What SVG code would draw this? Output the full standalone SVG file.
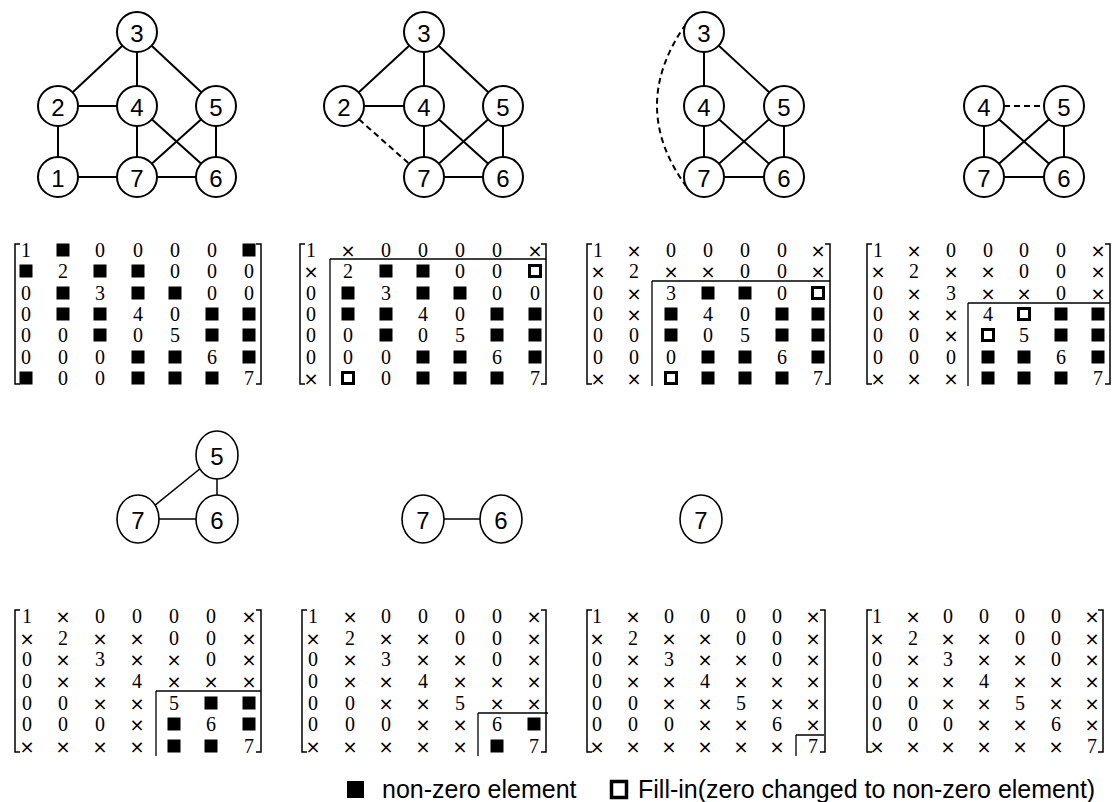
<svg xmlns="http://www.w3.org/2000/svg" width="1115" height="802" viewBox="0 0 1115 802">
<style>
.node circle,.node ellipse{fill:#fff;stroke:#000;stroke-width:2}
.node.sm ellipse{stroke-width:1.6}
.node text{font-family:"Liberation Sans",Arial,sans-serif;font-size:24px;text-anchor:middle;dominant-baseline:central}
.edges line,.edges path{stroke:#000;stroke-width:2;fill:none}
.edges .thin{stroke-width:1.5}
.edges .dash{stroke-dasharray:6 4}
.mt{font-family:"Liberation Serif","Times New Roman",serif;font-size:20px;text-anchor:middle;fill:#000}
.mt .x{font-family:"DejaVu Sans",sans-serif;font-size:18px}
.br{fill:none;stroke:#000;stroke-width:1.5}
.part{fill:none;stroke:#000;stroke-width:1.3}
.leg{font-family:"Liberation Sans",Arial,sans-serif;font-size:25px}
</style>
<defs>
<rect id="bk" x="-6.5" y="-6.5" width="13" height="13" fill="#000"/>
<rect id="fi" x="-5.5" y="-5.5" width="11" height="11" fill="#fff" stroke="#000" stroke-width="3"/>
</defs>
<rect width="1115" height="802" fill="#fff"/>

<g id="connectors" class="edges">
<line x1="137" y1="32" x2="58" y2="106"/><line x1="137" y1="32" x2="137" y2="106"/><line x1="137" y1="32" x2="216" y2="106"/>
<line x1="58" y1="106" x2="137" y2="106"/><line x1="58" y1="106" x2="58" y2="177"/><line x1="58" y1="177" x2="137" y2="177"/>
<line x1="137" y1="106" x2="137" y2="177"/><line x1="137" y1="106" x2="216" y2="177"/><line x1="216" y1="106" x2="137" y2="177"/>
<line x1="216" y1="106" x2="216" y2="177"/><line x1="137" y1="177" x2="216" y2="177"/>
<line x1="424" y1="32" x2="344" y2="106"/><line x1="424" y1="32" x2="424" y2="106"/><line x1="424" y1="32" x2="503" y2="106"/>
<line x1="344" y1="106" x2="424" y2="106"/><line class="dash" x1="344" y1="106" x2="424" y2="177"/>
<line x1="424" y1="106" x2="424" y2="177"/><line x1="424" y1="106" x2="503" y2="177"/><line x1="503" y1="106" x2="424" y2="177"/>
<line x1="503" y1="106" x2="503" y2="177"/><line x1="424" y1="177" x2="503" y2="177"/>
<line x1="704" y1="32" x2="704" y2="106"/><line x1="704" y1="32" x2="784" y2="106"/>
<path class="dash" d="M 686 24 Q 628 106 686 186"/>
<line x1="704" y1="106" x2="704" y2="177"/><line x1="704" y1="106" x2="784" y2="177"/><line x1="784" y1="106" x2="704" y2="177"/>
<line x1="784" y1="106" x2="784" y2="177"/><line x1="704" y1="177" x2="784" y2="177"/>
<line class="dash" x1="984" y1="106" x2="1064" y2="106"/>
<line x1="984" y1="106" x2="984" y2="177"/><line x1="984" y1="106" x2="1064" y2="177"/><line x1="1064" y1="106" x2="984" y2="177"/>
<line x1="1064" y1="106" x2="1064" y2="177"/><line x1="984" y1="177" x2="1064" y2="177"/>
<line class="thin" x1="217" y1="455" x2="138" y2="519"/><line class="thin" x1="217" y1="455" x2="217" y2="519"/><line class="thin" x1="138" y1="519" x2="217" y2="519"/>
<line class="thin" x1="423" y1="519" x2="501" y2="519"/>
</g>

<g id="g1-n3" class="node"><circle cx="137" cy="32" r="20"/><text x="137" y="33">3</text></g>
<g id="g1-n2" class="node"><circle cx="58" cy="106" r="20"/><text x="58" y="107">2</text></g>
<g id="g1-n4" class="node"><circle cx="137" cy="106" r="20"/><text x="137" y="107">4</text></g>
<g id="g1-n5" class="node"><circle cx="216" cy="106" r="20"/><text x="216" y="107">5</text></g>
<g id="g1-n1" class="node"><circle cx="58" cy="177" r="20"/><text x="58" y="178">1</text></g>
<g id="g1-n7" class="node"><circle cx="137" cy="177" r="20"/><text x="137" y="178">7</text></g>
<g id="g1-n6" class="node"><circle cx="216" cy="177" r="20"/><text x="216" y="178">6</text></g>
<g id="g2-n3" class="node"><circle cx="424" cy="32" r="20"/><text x="424" y="33">3</text></g>
<g id="g2-n2" class="node"><circle cx="344" cy="106" r="20"/><text x="344" y="107">2</text></g>
<g id="g2-n4" class="node"><circle cx="424" cy="106" r="20"/><text x="424" y="107">4</text></g>
<g id="g2-n5" class="node"><circle cx="503" cy="106" r="20"/><text x="503" y="107">5</text></g>
<g id="g2-n7" class="node"><circle cx="424" cy="177" r="20"/><text x="424" y="178">7</text></g>
<g id="g2-n6" class="node"><circle cx="503" cy="177" r="20"/><text x="503" y="178">6</text></g>
<g id="g3-n3" class="node"><circle cx="704" cy="32" r="20"/><text x="704" y="33">3</text></g>
<g id="g3-n4" class="node"><circle cx="704" cy="106" r="20"/><text x="704" y="107">4</text></g>
<g id="g3-n5" class="node"><circle cx="784" cy="106" r="20"/><text x="784" y="107">5</text></g>
<g id="g3-n7" class="node"><circle cx="704" cy="177" r="20"/><text x="704" y="178">7</text></g>
<g id="g3-n6" class="node"><circle cx="784" cy="177" r="20"/><text x="784" y="178">6</text></g>
<g id="g4-n4" class="node"><circle cx="984" cy="106" r="20"/><text x="984" y="107">4</text></g>
<g id="g4-n5" class="node"><circle cx="1064" cy="106" r="20"/><text x="1064" y="107">5</text></g>
<g id="g4-n7" class="node"><circle cx="984" cy="177" r="20"/><text x="984" y="178">7</text></g>
<g id="g4-n6" class="node"><circle cx="1064" cy="177" r="20"/><text x="1064" y="178">6</text></g>
<g id="g5-n5" class="node sm"><ellipse cx="217" cy="455" rx="21" ry="24"/><text x="217" y="456">5</text></g>
<g id="g5-n7" class="node sm"><ellipse cx="138" cy="519" rx="21" ry="24"/><text x="138" y="520">7</text></g>
<g id="g5-n6" class="node sm"><ellipse cx="217" cy="519" rx="21" ry="24"/><text x="217" y="520">6</text></g>
<g id="g6-n7" class="node sm"><ellipse cx="423" cy="519" rx="21" ry="24"/><text x="423" y="520">7</text></g>
<g id="g6-n6" class="node sm"><ellipse cx="501" cy="519" rx="21" ry="24"/><text x="501" y="520">6</text></g>
<g id="g7-n7" class="node sm"><ellipse cx="701" cy="519" rx="21" ry="24"/><text x="701" y="520">7</text></g>

<g id="m1">
<path class="br" d="M20 244 H15 V384 H20 M256 244 H261 V384 H256"/>
<use href="#bk" x="63" y="250"/><use href="#bk" x="249" y="250"/>
<use href="#bk" x="26" y="271"/><use href="#bk" x="100" y="271"/><use href="#bk" x="138" y="271"/>
<use href="#bk" x="63" y="293"/><use href="#bk" x="138" y="293"/><use href="#bk" x="175" y="293"/>
<use href="#bk" x="63" y="314"/><use href="#bk" x="100" y="314"/><use href="#bk" x="212" y="314"/><use href="#bk" x="249" y="314"/>
<use href="#bk" x="100" y="335"/><use href="#bk" x="212" y="335"/><use href="#bk" x="249" y="335"/>
<use href="#bk" x="138" y="357"/><use href="#bk" x="175" y="357"/><use href="#bk" x="249" y="357"/>
<use href="#bk" x="26" y="378"/><use href="#bk" x="138" y="378"/><use href="#bk" x="175" y="378"/><use href="#bk" x="212" y="378"/>
<text class="mt" y="257"><tspan x="26">1</tspan><tspan x="100">0</tspan><tspan x="138">0</tspan><tspan x="175">0</tspan><tspan x="212">0</tspan></text>
<text class="mt" y="278"><tspan x="63">2</tspan><tspan x="175">0</tspan><tspan x="212">0</tspan><tspan x="249">0</tspan></text>
<text class="mt" y="300"><tspan x="26">0</tspan><tspan x="100">3</tspan><tspan x="212">0</tspan><tspan x="249">0</tspan></text>
<text class="mt" y="321"><tspan x="26">0</tspan><tspan x="138">4</tspan><tspan x="175">0</tspan></text>
<text class="mt" y="342"><tspan x="26">0</tspan><tspan x="63">0</tspan><tspan x="138">0</tspan><tspan x="175">5</tspan></text>
<text class="mt" y="364"><tspan x="26">0</tspan><tspan x="63">0</tspan><tspan x="100">0</tspan><tspan x="212">6</tspan></text>
<text class="mt" y="385"><tspan x="63">0</tspan><tspan x="100">0</tspan><tspan x="249">7</tspan></text>
</g>

<g id="m2">
<path class="br" d="M305 244 H300 V384 H305 M541 244 H546 V384 H541"/>
<path class="part" d="M330 259 H546 M330 259 V386"/>
<use href="#bk" x="386" y="271"/><use href="#bk" x="423" y="271"/><use href="#fi" x="535" y="271"/>
<use href="#bk" x="348" y="293"/><use href="#bk" x="423" y="293"/><use href="#bk" x="460" y="293"/>
<use href="#bk" x="348" y="314"/><use href="#bk" x="386" y="314"/><use href="#bk" x="497" y="314"/><use href="#bk" x="535" y="314"/>
<use href="#bk" x="386" y="335"/><use href="#bk" x="497" y="335"/><use href="#bk" x="535" y="335"/>
<use href="#bk" x="423" y="357"/><use href="#bk" x="460" y="357"/><use href="#bk" x="535" y="357"/>
<use href="#fi" x="348" y="378"/><use href="#bk" x="423" y="378"/><use href="#bk" x="460" y="378"/><use href="#bk" x="497" y="378"/>
<text class="mt" y="257"><tspan x="311">1</tspan><tspan class="x" x="348">×</tspan><tspan x="386">0</tspan><tspan x="423">0</tspan><tspan x="460">0</tspan><tspan x="497">0</tspan><tspan class="x" x="535">×</tspan></text>
<text class="mt" y="278"><tspan class="x" x="311">×</tspan><tspan x="348">2</tspan><tspan x="460">0</tspan><tspan x="497">0</tspan></text>
<text class="mt" y="300"><tspan x="311">0</tspan><tspan x="386">3</tspan><tspan x="497">0</tspan><tspan x="535">0</tspan></text>
<text class="mt" y="321"><tspan x="311">0</tspan><tspan x="423">4</tspan><tspan x="460">0</tspan></text>
<text class="mt" y="342"><tspan x="311">0</tspan><tspan x="348">0</tspan><tspan x="423">0</tspan><tspan x="460">5</tspan></text>
<text class="mt" y="364"><tspan x="311">0</tspan><tspan x="348">0</tspan><tspan x="386">0</tspan><tspan x="497">6</tspan></text>
<text class="mt" y="385"><tspan class="x" x="311">×</tspan><tspan x="386">0</tspan><tspan x="535">7</tspan></text>
</g>

<g id="m3">
<path class="br" d="M592 244 H587 V384 H592 M825 244 H830 V384 H825"/>
<path class="part" d="M652 281 H830 M652 281 V386"/>
<use href="#bk" x="708" y="293"/><use href="#bk" x="745" y="293"/><use href="#fi" x="818" y="293"/>
<use href="#bk" x="671" y="314"/><use href="#bk" x="782" y="314"/><use href="#bk" x="818" y="314"/>
<use href="#bk" x="671" y="335"/><use href="#bk" x="782" y="335"/><use href="#bk" x="818" y="335"/>
<use href="#bk" x="708" y="357"/><use href="#bk" x="745" y="357"/><use href="#bk" x="818" y="357"/>
<use href="#fi" x="671" y="378"/><use href="#bk" x="708" y="378"/><use href="#bk" x="745" y="378"/><use href="#bk" x="782" y="378"/>
<text class="mt" y="257"><tspan x="598">1</tspan><tspan class="x" x="634">×</tspan><tspan x="671">0</tspan><tspan x="708">0</tspan><tspan x="745">0</tspan><tspan x="782">0</tspan><tspan class="x" x="818">×</tspan></text>
<text class="mt" y="278"><tspan class="x" x="598">×</tspan><tspan x="634">2</tspan><tspan class="x" x="671">×</tspan><tspan class="x" x="708">×</tspan><tspan x="745">0</tspan><tspan x="782">0</tspan><tspan class="x" x="818">×</tspan></text>
<text class="mt" y="300"><tspan x="598">0</tspan><tspan class="x" x="634">×</tspan><tspan x="671">3</tspan><tspan x="782">0</tspan></text>
<text class="mt" y="321"><tspan x="598">0</tspan><tspan class="x" x="634">×</tspan><tspan x="708">4</tspan><tspan x="745">0</tspan></text>
<text class="mt" y="342"><tspan x="598">0</tspan><tspan x="634">0</tspan><tspan x="708">0</tspan><tspan x="745">5</tspan></text>
<text class="mt" y="364"><tspan x="598">0</tspan><tspan x="634">0</tspan><tspan x="671">0</tspan><tspan x="782">6</tspan></text>
<text class="mt" y="385"><tspan class="x" x="598">×</tspan><tspan class="x" x="634">×</tspan><tspan x="818">7</tspan></text>
</g>

<g id="m4">
<path class="br" d="M872 244 H867 V384 H872 M1105 244 H1110 V384 H1105"/>
<path class="part" d="M968 303 H1110 M968 303 V386"/>
<use href="#fi" x="1024" y="314"/><use href="#bk" x="1061" y="314"/><use href="#bk" x="1098" y="314"/>
<use href="#fi" x="988" y="335"/><use href="#bk" x="1061" y="335"/><use href="#bk" x="1098" y="335"/>
<use href="#bk" x="988" y="357"/><use href="#bk" x="1024" y="357"/><use href="#bk" x="1098" y="357"/>
<use href="#bk" x="988" y="378"/><use href="#bk" x="1024" y="378"/><use href="#bk" x="1061" y="378"/>
<text class="mt" y="257"><tspan x="878">1</tspan><tspan class="x" x="914">×</tspan><tspan x="951">0</tspan><tspan x="988">0</tspan><tspan x="1024">0</tspan><tspan x="1061">0</tspan><tspan class="x" x="1098">×</tspan></text>
<text class="mt" y="278"><tspan class="x" x="878">×</tspan><tspan x="914">2</tspan><tspan class="x" x="951">×</tspan><tspan class="x" x="988">×</tspan><tspan x="1024">0</tspan><tspan x="1061">0</tspan><tspan class="x" x="1098">×</tspan></text>
<text class="mt" y="300"><tspan x="878">0</tspan><tspan class="x" x="914">×</tspan><tspan x="951">3</tspan><tspan class="x" x="988">×</tspan><tspan class="x" x="1024">×</tspan><tspan x="1061">0</tspan><tspan class="x" x="1098">×</tspan></text>
<text class="mt" y="321"><tspan x="878">0</tspan><tspan class="x" x="914">×</tspan><tspan class="x" x="951">×</tspan><tspan x="988">4</tspan></text>
<text class="mt" y="342"><tspan x="878">0</tspan><tspan x="914">0</tspan><tspan class="x" x="951">×</tspan><tspan x="1024">5</tspan></text>
<text class="mt" y="364"><tspan x="878">0</tspan><tspan x="914">0</tspan><tspan x="951">0</tspan><tspan x="1061">6</tspan></text>
<text class="mt" y="385"><tspan class="x" x="878">×</tspan><tspan class="x" x="914">×</tspan><tspan class="x" x="951">×</tspan><tspan x="1098">7</tspan></text>
</g>

<g id="m5">
<path class="br" d="M20 610 H15 V752 H20 M256 610 H261 V752 H256"/>
<path class="part" d="M156 691 H261 M156 691 V756"/>
<use href="#bk" x="211" y="703"/><use href="#bk" x="249" y="703"/>
<use href="#bk" x="174" y="724"/><use href="#bk" x="249" y="724"/>
<use href="#bk" x="174" y="746"/><use href="#bk" x="211" y="746"/>
<text class="mt" y="623"><tspan x="27">1</tspan><tspan class="x" x="63">×</tspan><tspan x="100">0</tspan><tspan x="137">0</tspan><tspan x="174">0</tspan><tspan x="211">0</tspan><tspan class="x" x="249">×</tspan></text>
<text class="mt" y="645"><tspan class="x" x="27">×</tspan><tspan x="63">2</tspan><tspan class="x" x="100">×</tspan><tspan class="x" x="137">×</tspan><tspan x="174">0</tspan><tspan x="211">0</tspan><tspan class="x" x="249">×</tspan></text>
<text class="mt" y="666"><tspan x="27">0</tspan><tspan class="x" x="63">×</tspan><tspan x="100">3</tspan><tspan class="x" x="137">×</tspan><tspan class="x" x="174">×</tspan><tspan x="211">0</tspan><tspan class="x" x="249">×</tspan></text>
<text class="mt" y="688"><tspan x="27">0</tspan><tspan class="x" x="63">×</tspan><tspan class="x" x="100">×</tspan><tspan x="137">4</tspan><tspan class="x" x="174">×</tspan><tspan class="x" x="211">×</tspan><tspan class="x" x="249">×</tspan></text>
<text class="mt" y="710"><tspan x="27">0</tspan><tspan x="63">0</tspan><tspan class="x" x="100">×</tspan><tspan class="x" x="137">×</tspan><tspan x="174">5</tspan></text>
<text class="mt" y="731"><tspan x="27">0</tspan><tspan x="63">0</tspan><tspan x="100">0</tspan><tspan class="x" x="137">×</tspan><tspan x="211">6</tspan></text>
<text class="mt" y="753"><tspan class="x" x="27">×</tspan><tspan class="x" x="63">×</tspan><tspan class="x" x="100">×</tspan><tspan class="x" x="137">×</tspan><tspan x="249">7</tspan></text>
</g>

<g id="m6">
<path class="br" d="M307 610 H302 V752 H307 M541 610 H546 V752 H541"/>
<path class="part" d="M478 713 H548 M478 713 V756"/>
<use href="#bk" x="534" y="724"/><use href="#bk" x="497" y="746"/>
<text class="mt" y="623"><tspan x="313">1</tspan><tspan class="x" x="350">×</tspan><tspan x="386">0</tspan><tspan x="423">0</tspan><tspan x="460">0</tspan><tspan x="497">0</tspan><tspan class="x" x="534">×</tspan></text>
<text class="mt" y="645"><tspan class="x" x="313">×</tspan><tspan x="350">2</tspan><tspan class="x" x="386">×</tspan><tspan class="x" x="423">×</tspan><tspan x="460">0</tspan><tspan x="497">0</tspan><tspan class="x" x="534">×</tspan></text>
<text class="mt" y="666"><tspan x="313">0</tspan><tspan class="x" x="350">×</tspan><tspan x="386">3</tspan><tspan class="x" x="423">×</tspan><tspan class="x" x="460">×</tspan><tspan x="497">0</tspan><tspan class="x" x="534">×</tspan></text>
<text class="mt" y="688"><tspan x="313">0</tspan><tspan class="x" x="350">×</tspan><tspan class="x" x="386">×</tspan><tspan x="423">4</tspan><tspan class="x" x="460">×</tspan><tspan class="x" x="497">×</tspan><tspan class="x" x="534">×</tspan></text>
<text class="mt" y="710"><tspan x="313">0</tspan><tspan x="350">0</tspan><tspan class="x" x="386">×</tspan><tspan class="x" x="423">×</tspan><tspan x="460">5</tspan><tspan class="x" x="497">×</tspan><tspan class="x" x="534">×</tspan></text>
<text class="mt" y="731"><tspan x="313">0</tspan><tspan x="350">0</tspan><tspan x="386">0</tspan><tspan class="x" x="423">×</tspan><tspan class="x" x="460">×</tspan><tspan x="497">6</tspan></text>
<text class="mt" y="753"><tspan class="x" x="313">×</tspan><tspan class="x" x="350">×</tspan><tspan class="x" x="386">×</tspan><tspan class="x" x="423">×</tspan><tspan class="x" x="460">×</tspan><tspan x="534">7</tspan></text>
</g>

<g id="m7">
<path class="br" d="M592 610 H587 V752 H592 M820 610 H825 V752 H820"/>
<path class="part" d="M796 735 H824 M796 735 V756"/>
<text class="mt" y="623"><tspan x="597">1</tspan><tspan class="x" x="633">×</tspan><tspan x="669">0</tspan><tspan x="705">0</tspan><tspan x="741">0</tspan><tspan x="777">0</tspan><tspan class="x" x="813">×</tspan></text>
<text class="mt" y="645"><tspan class="x" x="597">×</tspan><tspan x="633">2</tspan><tspan class="x" x="669">×</tspan><tspan class="x" x="705">×</tspan><tspan x="741">0</tspan><tspan x="777">0</tspan><tspan class="x" x="813">×</tspan></text>
<text class="mt" y="666"><tspan x="597">0</tspan><tspan class="x" x="633">×</tspan><tspan x="669">3</tspan><tspan class="x" x="705">×</tspan><tspan class="x" x="741">×</tspan><tspan x="777">0</tspan><tspan class="x" x="813">×</tspan></text>
<text class="mt" y="688"><tspan x="597">0</tspan><tspan class="x" x="633">×</tspan><tspan class="x" x="669">×</tspan><tspan x="705">4</tspan><tspan class="x" x="741">×</tspan><tspan class="x" x="777">×</tspan><tspan class="x" x="813">×</tspan></text>
<text class="mt" y="710"><tspan x="597">0</tspan><tspan x="633">0</tspan><tspan class="x" x="669">×</tspan><tspan class="x" x="705">×</tspan><tspan x="741">5</tspan><tspan class="x" x="777">×</tspan><tspan class="x" x="813">×</tspan></text>
<text class="mt" y="731"><tspan x="597">0</tspan><tspan x="633">0</tspan><tspan x="669">0</tspan><tspan class="x" x="705">×</tspan><tspan class="x" x="741">×</tspan><tspan x="777">6</tspan><tspan class="x" x="813">×</tspan></text>
<text class="mt" y="753"><tspan class="x" x="597">×</tspan><tspan class="x" x="633">×</tspan><tspan class="x" x="669">×</tspan><tspan class="x" x="705">×</tspan><tspan class="x" x="741">×</tspan><tspan class="x" x="777">×</tspan><tspan x="813">7</tspan></text>
</g>

<g id="m8">
<path class="br" d="M872 610 H867 V752 H872 M1098 610 H1103 V752 H1098"/>
<text class="mt" y="623"><tspan x="877">1</tspan><tspan class="x" x="913">×</tspan><tspan x="948">0</tspan><tspan x="984">0</tspan><tspan x="1020">0</tspan><tspan x="1056">0</tspan><tspan class="x" x="1092">×</tspan></text>
<text class="mt" y="645"><tspan class="x" x="877">×</tspan><tspan x="913">2</tspan><tspan class="x" x="948">×</tspan><tspan class="x" x="984">×</tspan><tspan x="1020">0</tspan><tspan x="1056">0</tspan><tspan class="x" x="1092">×</tspan></text>
<text class="mt" y="666"><tspan x="877">0</tspan><tspan class="x" x="913">×</tspan><tspan x="948">3</tspan><tspan class="x" x="984">×</tspan><tspan class="x" x="1020">×</tspan><tspan x="1056">0</tspan><tspan class="x" x="1092">×</tspan></text>
<text class="mt" y="688"><tspan x="877">0</tspan><tspan class="x" x="913">×</tspan><tspan class="x" x="948">×</tspan><tspan x="984">4</tspan><tspan class="x" x="1020">×</tspan><tspan class="x" x="1056">×</tspan><tspan class="x" x="1092">×</tspan></text>
<text class="mt" y="710"><tspan x="877">0</tspan><tspan x="913">0</tspan><tspan class="x" x="948">×</tspan><tspan class="x" x="984">×</tspan><tspan x="1020">5</tspan><tspan class="x" x="1056">×</tspan><tspan class="x" x="1092">×</tspan></text>
<text class="mt" y="731"><tspan x="877">0</tspan><tspan x="913">0</tspan><tspan x="948">0</tspan><tspan class="x" x="984">×</tspan><tspan class="x" x="1020">×</tspan><tspan x="1056">6</tspan><tspan class="x" x="1092">×</tspan></text>
<text class="mt" y="753"><tspan class="x" x="877">×</tspan><tspan class="x" x="913">×</tspan><tspan class="x" x="948">×</tspan><tspan class="x" x="984">×</tspan><tspan class="x" x="1020">×</tspan><tspan class="x" x="1056">×</tspan><tspan x="1092">7</tspan></text>
</g>

<g id="legend">
<rect x="347" y="781" width="17" height="17" fill="#000"/>
<text class="leg" x="382" y="798">non-zero element</text>
<rect x="611.5" y="781.5" width="15" height="16" fill="#fff" stroke="#000" stroke-width="3.5"/>
<text class="leg" x="638" y="798">Fill-in(zero changed to non-zero element)</text>
</g>
</svg>
